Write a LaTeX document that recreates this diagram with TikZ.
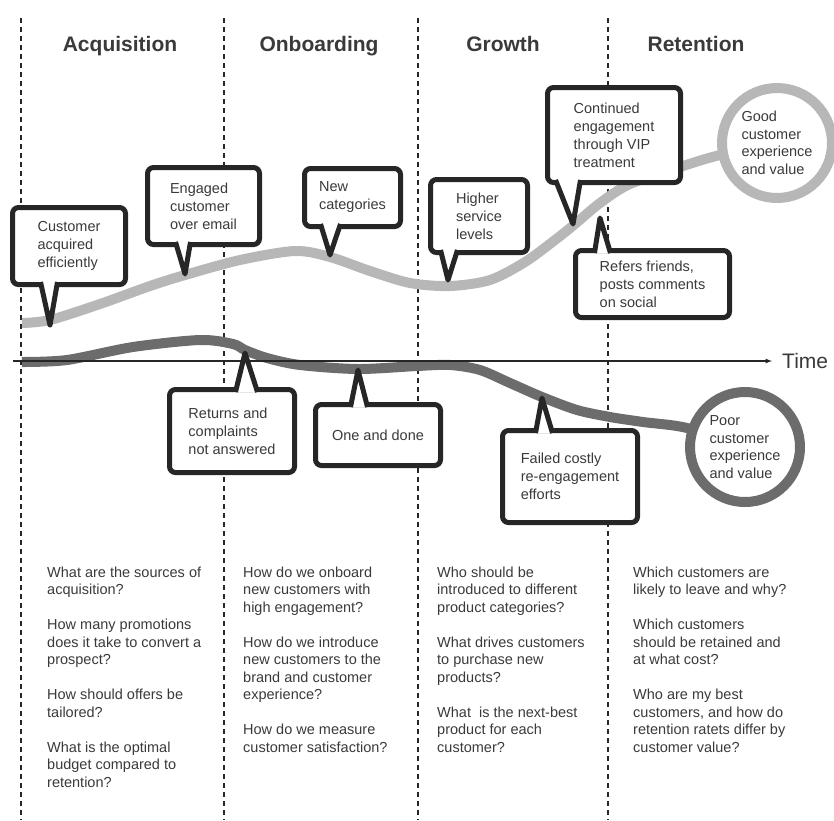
\documentclass[tikz,border=0pt]{standalone}
\usepackage{fontspec}
\setmainfont{Liberation Sans}
\definecolor{ink}{HTML}{3A3A3A}
\definecolor{rim}{HTML}{262626}
\definecolor{goodgray}{HTML}{B7B7B7}
\definecolor{poorgray}{HTML}{6C6C6C}
\tikzset{
  phase/.style={anchor=base, font=\bfseries\fontsize{21}{25}\selectfont, text=ink},
  divider/.style={draw=rim, line width=1.6pt, dash pattern=on 5pt off 4pt},
  bubble/.style={draw=rim, line width=5pt, fill=white, rounded corners=6pt, inner sep=0pt, outer sep=0pt,
    align=left, text=ink, font=\fontsize{14.5}{18}\selectfont},
  pointer/.style={draw=rim, line width=5pt, fill=white, line join=round},
  goodline/.style={draw=goodgray, line width=10pt},
  poorline/.style={draw=poorgray, line width=10pt},
  ending/.style={circle, line width=10pt, fill=white, minimum size=110pt, inner sep=0pt,
    align=left, text=ink, font=\fontsize{14.5}{17.5}\selectfont},
  question/.style={anchor=north west, inner sep=0pt, align=left, text=ink, font=\fontsize{14.5}{17.5}\selectfont}
}
\begin{document}
\begin{tikzpicture}[x=1pt, y=-1pt]
  \useasboundingbox (0,0) rectangle (834,820);
  \foreach \x in {21,224,418,608}
    \draw[divider] (\x,18) -- (\x,820);

  \node[phase] (acqhead) at (120,51) {Acquisition};
  \node[phase] (onbhead) at (319,51) {Onboarding};
  \node[phase] (grohead) at (503,51) {Growth};
  \node[phase] (rethead) at (696,51) {Retention};

  % the two customer paths
  \coordinate (good) at (777,143);
  \coordinate (poor) at (745,447);
  \draw[goodline] plot[smooth] coordinates {(22,323) (50,320) (100,304) (150,286) (185,275) (240,260)
    (295,251) (330,257) (370,271) (410,283) (450,286) (490,280) (525,262) (555,240) (575,224)
    (600,203) (630,184) (683,166) (720,155) (good)};
  \draw[poorline] plot[smooth] coordinates {(22,362) (67,360) (133,347) (200,340) (233,344) (245,350)
    (267,358) (300,365) (358,369) (417,366) (450,365) (480,370) (510,383) (542,397) (577,410)
    (610,417) (643,422) (687,428) (poor)};

  \node[anchor=west, inner sep=0pt, font=\fontsize{21}{25}\selectfont, text=ink] (time) at (782,361) {Time};
  \coordinate (origin) at (13,361);
  \draw[draw=rim, line width=1.2pt, -latex] (origin) -- ([xshift=-10pt]time.west);

  % callouts above the path
  \node[bubble, minimum width=113pt, minimum height=77pt] (acquired) at (69,246) {Customer\\acquired\\efficiently};
  \coordinate (acquiredtip) at (50,325);
  \draw[pointer] ([xshift=-28.5pt,yshift=2.5pt]acquired.south) -- (acquiredtip) -- ([xshift=-11.5pt,yshift=2.5pt]acquired.south);

  \node[bubble, minimum width=112pt, minimum height=77pt] (engaged) at (203.5,206) {Engaged\\customer\\over email};
  \coordinate (engagedtip) at (185,274);
  \draw[pointer] ([xshift=-28pt,yshift=2.5pt]engaged.south) -- (engagedtip) -- ([xshift=-13pt,yshift=2.5pt]engaged.south);

  \node[bubble, minimum width=96pt, minimum height=58pt] (newcats) at (352.5,197.5) {New\\categories};
  \coordinate (newcatstip) at (330,255);
  \draw[pointer] ([xshift=-32pt,yshift=2.5pt]newcats.south) -- (newcatstip) -- ([xshift=-12pt,yshift=2.5pt]newcats.south);

  \node[bubble, minimum width=97pt, minimum height=73pt] (service) at (479,216) {Higher\\service\\levels};
  \coordinate (servicetip) at (448,280);
  \draw[pointer] ([xshift=-38.5pt,yshift=2.5pt]service.south) -- (servicetip) -- ([xshift=-21.5pt,yshift=2.5pt]service.south);

  \node[bubble, minimum width=133pt, minimum height=95pt] (vip) at (614,135) {Continued\\engagement\\through VIP\\treatment};
  \coordinate (viptip) at (573,224);
  \draw[pointer] ([xshift=-58.5pt,yshift=2.5pt]vip.south) -- (viptip) -- ([xshift=-33.5pt,yshift=2.5pt]vip.south);

  \node[bubble, minimum width=154pt, minimum height=67pt] (refers) at (652.5,284) {Refers friends,\\posts comments\\on social};
  \coordinate (referstip) at (600,218);
  \draw[pointer] ([xshift=-58pt,yshift=-2.5pt]refers.north) -- (referstip) -- ([xshift=-42pt,yshift=-2.5pt]refers.north);

  % callouts below the path
  \node[bubble, minimum width=125pt, minimum height=83pt] (returns) at (232,431) {Returns and\\complaints\\not answered};
  \coordinate (returnstip) at (245,353);
  \draw[pointer] ([xshift=3.5pt,yshift=-2.5pt]returns.north) -- (returnstip) -- ([xshift=25.5pt,yshift=-2.5pt]returns.north);

  \node[bubble, minimum width=125pt, minimum height=61pt] (onedone) at (378,435) {One and done};
  \coordinate (onedonetip) at (358,370);
  \draw[pointer] ([xshift=-27.5pt,yshift=-2.5pt]onedone.north) -- (onedonetip) -- ([xshift=-10.5pt,yshift=-2.5pt]onedone.north);

  \node[bubble, minimum width=135pt, minimum height=92pt] (failed) at (570,476.5) {Failed costly\\re-engagement\\efforts};
  \coordinate (failedtip) at (542,398);
  \draw[pointer] ([xshift=-34.5pt,yshift=-2.5pt]failed.north) -- (failedtip) -- ([xshift=-17.5pt,yshift=-2.5pt]failed.north);

  \node[ending, draw=goodgray] (goodend) at (good) {Good\\customer\\experience\\and value};
  \node[ending, draw=poorgray] (poorend) at (poor) {Poor\\customer\\experience\\and value};

  % questions per phase
  \node[question] (acqq) at (47,566.5) {What are the sources of\\acquisition?\\[17.5pt]How many promotions\\does it take to convert a\\prospect?\\[17.5pt]How should offers be\\tailored?\\[17.5pt]What is the optimal\\budget compared to\\retention?};
  \node[question] (onbq) at (243,566.5) {How do we onboard\\new customers with\\high engagement?\\[17.5pt]How do we introduce\\new customers to the\\brand and customer\\experience?\\[17.5pt]How do we measure\\customer satisfaction?};
  \node[question] (groq) at (437,566.5) {Who should be\\introduced to different\\product categories?\\[17.5pt]What drives customers\\to purchase new\\products?\\[17.5pt]What\ \ is the next-best\\product for each\\customer?};
  \node[question] (retq) at (633,566.5) {Which customers are\\likely to leave and why?\\[17.5pt]Which customers\\should be retained and\\at what cost?\\[17.5pt]Who are my best\\customers, and how do\\retention ratets differ by\\customer value?};
\end{tikzpicture}
\end{document}
